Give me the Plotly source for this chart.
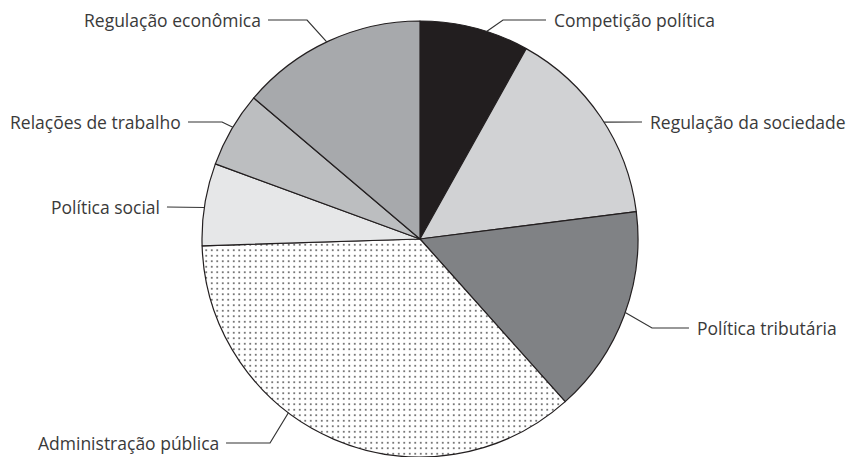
import math
import plotly.graph_objects as go

# Share of each policy area (percent), clockwise from 12 o'clock
categories = [
    "Competição política",
    "Regulação da sociedade",
    "Política tributária",
    "Administração pública",
    "Política social",
    "Relações de trabalho",
    "Regulação econômica",
]
values = [8.1, 14.9, 15.4, 36.1, 6.1, 5.6, 13.8]

# Slice fills and patterns
colors = ["#221e1f", "#d1d2d4", "#808285", "#ffffff", "#e6e7e8", "#bcbec0", "#a7a9ac"]
patterns = ["", "", "", ".", "", "", ""]

W, H = 851, 457
CX, CY, R = 420, 239, 218  # pie centre and radius in pixels

# Label placement: where along the slice the leader touches the rim,
# elbow point, leader end, text side
label_layout = {
    "Competição política":    dict(frac=0.61, elbow=(503, 20), end=(546, 20), side="left"),
    "Regulação da sociedade": dict(frac=0.53, elbow=None, end=(642, 122), side="left"),
    "Política tributária":    dict(frac=0.485, elbow=(652, 328), end=(689, 328), side="left"),
    "Administração pública":  dict(frac=0.607, elbow=(270, 443), end=(226, 443), side="right"),
    "Política social":        dict(frac=0.46, elbow=None, end=(167, 207), side="right"),
    "Relações de trabalho":   dict(frac=0.53, elbow=(222, 122), end=(188, 122), side="right"),
    "Regulação econômica":    dict(frac=0.49, elbow=(307, 20), end=(268, 20), side="right"),
}


def px(x, y):
    return x / W, 1 - y / H


fig = go.Figure(
    go.Pie(
        labels=categories,
        values=values,
        sort=False,
        direction="clockwise",
        rotation=0,
        textinfo="none",
        hoverinfo="skip",
        marker=dict(
            colors=colors,
            line=dict(color="#231f20", width=1.2),
            pattern=dict(shape=patterns, size=5.5, solidity=0.09,
                         fgcolor="#4a4a4a", fillmode="replace"),
        ),
        domain=dict(x=[(CX - R) / W, (CX + R) / W], y=[0, 2 * R / H]),
    )
)

total = sum(values)
start = 0.0
shapes, annotations = [], []
for cat, val in zip(categories, values):
    span = 360.0 * val / total
    spec = label_layout[cat]
    ang = math.radians(start + spec["frac"] * span)
    ex, ey = CX + R * math.sin(ang), CY - R * math.cos(ang)
    pts = [(ex, ey)]
    if spec["elbow"]:
        pts.append(spec["elbow"])
    pts.append(spec["end"])
    path = "M " + " L ".join("%.4f,%.4f" % px(x, y) for x, y in pts)
    shapes.append(dict(type="path", path=path, xref="paper", yref="paper",
                       line=dict(color="#333333", width=1.2)))
    tx, ty = spec["end"]
    if spec["side"] == "left":
        ax, xanchor = tx + 6, "left"
    else:
        ax, xanchor = tx - 5, "right"
    x0, y0 = px(ax, ty)
    annotations.append(dict(text=cat, x=x0, y=y0, xref="paper", yref="paper",
                            xanchor=xanchor, yanchor="middle", showarrow=False,
                            font=dict(family="Open Sans", size=17.5, color="#3a3a3a")))
    start += span

fig.update_layout(
    width=W, height=H,
    margin=dict(l=0, r=0, t=0, b=0),
    paper_bgcolor="white",
    plot_bgcolor="white",
    showlegend=False,
    shapes=shapes,
    annotations=annotations,
)

fig.write_html("out.html")
